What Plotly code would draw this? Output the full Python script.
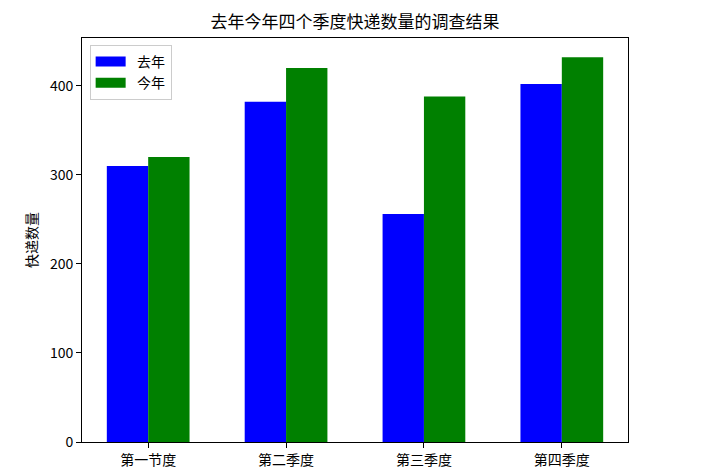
import plotly.graph_objects as go

categories = ["第一节度", "第二季度", "第三季度", "第四季度"]
last_year = [310, 382, 256, 402]
this_year = [320, 420, 388, 432]
series_names = ["去年", "今年"]
colors = ["blue", "green"]
y_ticks = [0, 100, 200, 300, 400]

FONT = "Noto Sans CJK SC, SimHei, sans-serif"
W, H = 709, 467  # page body has an 8px margin

fig = go.Figure()
for name, vals, col in zip(series_names, [last_year, this_year], colors):
    fig.add_trace(go.Bar(x=categories, y=vals, name=name, marker=dict(color=col, line=dict(width=0)),
                         showlegend=False))
# legend patches (matplotlib style wide rectangles)
for name, col in zip(series_names, colors):
    fig.add_trace(go.Scatter(x=[None], y=[None], mode="lines", name="\u00a0\u00a0" + name,
                             line=dict(color=col, width=10), showlegend=True))

fig.update_layout(
    width=W, height=H,
    margin=dict(l=74, r=89, t=30, b=33, autoexpand=False),
    plot_bgcolor="white", paper_bgcolor="white",
    barmode="group", bargap=0.4, bargroupgap=0,
    font=dict(family=FONT, size=14, color="black"),
    title=dict(text="去年今年四个季度快递数量的调查结果", x=0.5, xref="paper", xanchor="center",
               y=1 - 14 / H, yanchor="middle", font=dict(size=17, family=FONT)),
    legend=dict(x=0.014, y=0.983, xanchor="left", yanchor="top", bgcolor="rgba(255,255,255,0.8)",
                bordercolor="#cccccc", borderwidth=1, font=dict(size=14, family=FONT),
                itemwidth=30, tracegroupgap=2),
    showlegend=True,
)
fig.update_xaxes(range=[-0.48, 3.48], showline=True, linecolor="black", linewidth=1, mirror=True,
                 ticks="outside", ticklen=5, tickcolor="black", showgrid=False, automargin=False,
                 tickfont=dict(size=14, family=FONT))
fig.update_yaxes(range=[0, 453.6], tickvals=y_ticks, showline=True, linecolor="black", linewidth=1,
                 mirror=True, ticks="outside", ticklen=5, tickcolor="black", showgrid=False,
                 zeroline=False, automargin=False, tickfont=dict(size=14, family=FONT),
                 title=dict(text="快递数量", font=dict(size=14, family=FONT), standoff=8))

fig.write_html("out.html")
